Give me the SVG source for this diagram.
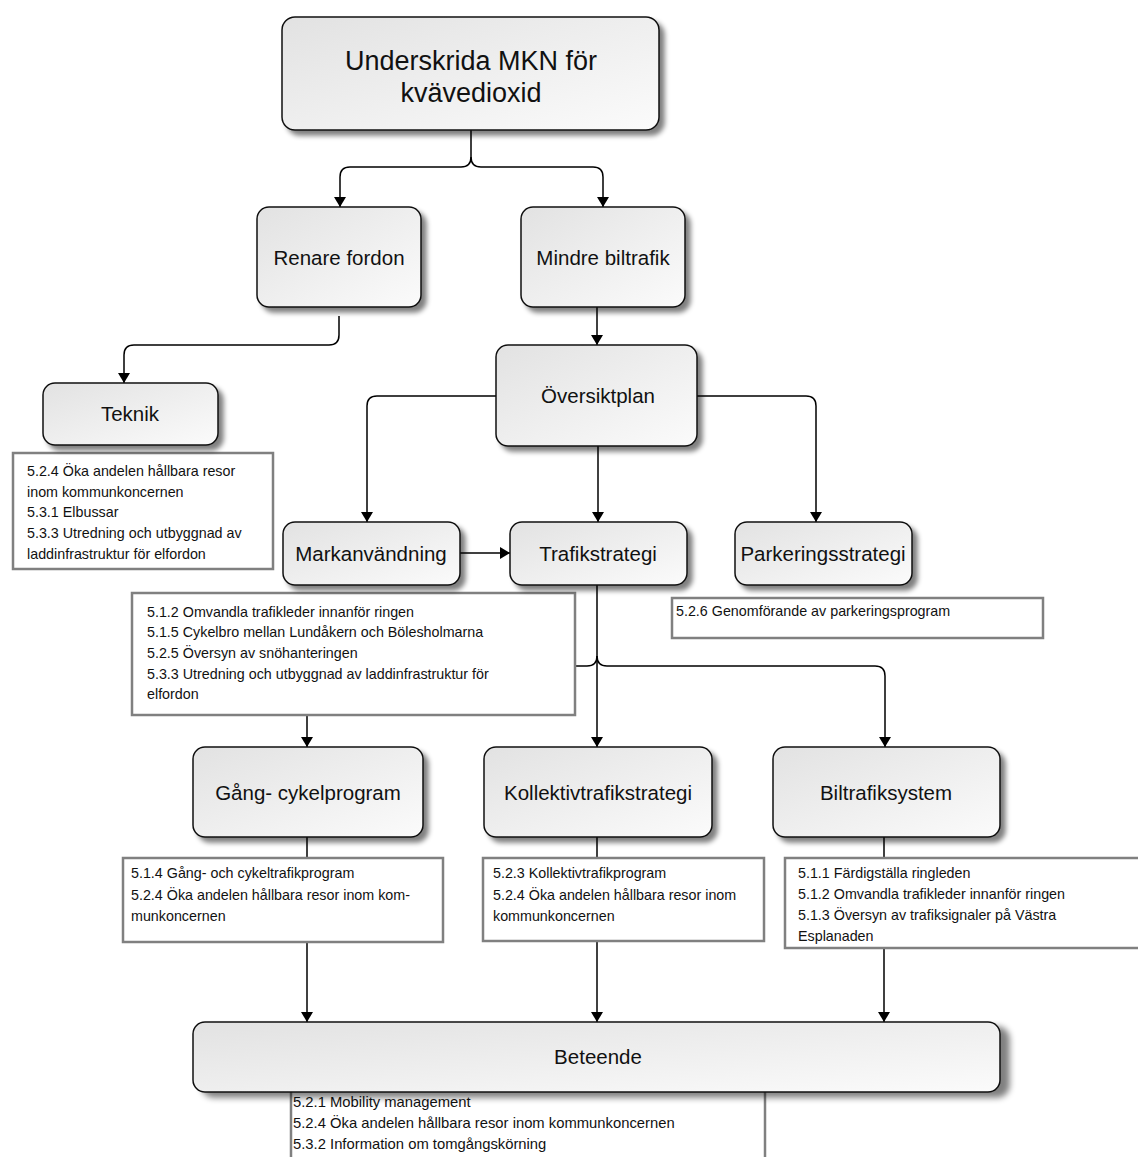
<svg xmlns="http://www.w3.org/2000/svg" width="1138" height="1157" viewBox="0 0 1138 1157">
<defs>
<linearGradient id="g" x1="0" y1="0" x2="1" y2="1">
<stop offset="0" stop-color="#e2e2e2"/>
<stop offset="1" stop-color="#fbfbfb"/>
</linearGradient>
<filter id="sh" x="-10%" y="-10%" width="130%" height="140%">
<feGaussianBlur in="SourceAlpha" stdDeviation="2.5"/>
<feOffset dx="5" dy="5" result="o"/>
<feComponentTransfer><feFuncA type="linear" slope="0.5"/></feComponentTransfer>
<feMerge><feMergeNode/><feMergeNode in="SourceGraphic"/></feMerge>
</filter>
<filter id="shw" x="-5%" y="-10%" width="115%" height="140%">
<feGaussianBlur in="SourceAlpha" stdDeviation="3"/>
<feOffset dx="9" dy="5" result="o"/>
<feComponentTransfer><feFuncA type="linear" slope="0.5"/></feComponentTransfer>
<feMerge><feMergeNode/><feMergeNode in="SourceGraphic"/></feMerge>
</filter>
<marker id="ah" viewBox="0 0 10 12" markerWidth="10" markerHeight="12" refX="10" refY="6" orient="auto" markerUnits="userSpaceOnUse">
<path d="M0,0 L10,6 L0,12 z" fill="#000"/>
</marker>
<style>
.n rect{fill:url(#g);stroke:#111;stroke-width:1.5;filter:url(#sh)}
.n text{font-family:"Liberation Sans",Arial,sans-serif;font-size:20.5px;fill:#111;text-anchor:middle}
.b rect{fill:#fff;stroke:#808080;stroke-width:2.5}
.b text{font-family:"Liberation Sans",Arial,sans-serif;font-size:14.3px;fill:#111}
.c path{fill:none;stroke:#000;stroke-width:1.5}
.c .a{marker-end:url(#ah)}
</style>
</defs>
<rect width="1138" height="1157" fill="#fff"/>

<g id="connectors" class="c">
<path class="a" d="M471,130 V157 Q471,167 461,167 H350 Q340,167 340,177 V207"/>
<path class="a" d="M471,157 Q471,167 481,167 H593 Q603,167 603,177 V207"/>
<path class="a" d="M339,316 V335 Q339,345 329,345 H134 Q124,345 124,355 V383"/>
<path class="a" d="M597,307 V345"/>
<path class="a" d="M496,396 H377 Q367,396 367,406 V522"/>
<path class="a" d="M598,446 V522"/>
<path class="a" d="M697,396 H806 Q816,396 816,406 V522"/>
<path class="a" d="M460,553 H510"/>
<path class="a" d="M597,585 V747"/>
<path class="a" d="M597,656 Q597,666 587,666 H317 Q307,666 307,676 V747"/>
<path class="a" d="M597,656 Q597,666 607,666 H875 Q885,666 885,676 V747"/>
<path class="a" d="M307,837 V1022"/>
<path class="a" d="M597,837 V1022"/>
<path class="a" d="M884,837 V1022"/>
</g>

<g id="box-teknik" class="b">
<rect x="13" y="453" width="260" height="116"/>
<text x="27" y="476">5.2.4 Öka andelen hållbara resor</text>
<text x="27" y="497">inom kommunkoncernen</text>
<text x="27" y="517">5.3.1 Elbussar</text>
<text x="27" y="538">5.3.3 Utredning och utbyggnad av</text>
<text x="27" y="559">laddinfrastruktur för elfordon</text>
</g>
<g id="box-trafik" class="b">
<rect x="132" y="593" width="443" height="122"/>
<text x="147" y="617">5.1.2 Omvandla trafikleder innanför ringen</text>
<text x="147" y="637">5.1.5 Cykelbro mellan Lundåkern och Bölesholmarna</text>
<text x="147" y="658">5.2.5 Översyn av snöhanteringen</text>
<text x="147" y="679">5.3.3 Utredning och utbyggnad av laddinfrastruktur för</text>
<text x="147" y="699">elfordon</text>
</g>
<g id="box-parkering" class="b">
<rect x="672" y="598" width="371" height="40"/>
<text x="676" y="616">5.2.6 Genomförande av parkeringsprogram</text>
</g>
<g id="box-gang" class="b">
<rect x="123" y="858" width="320" height="84"/>
<text x="131" y="878">5.1.4 Gång- och cykeltrafikprogram</text>
<text x="131" y="900">5.2.4 Öka andelen hållbara resor inom kom-</text>
<text x="131" y="921">munkoncernen</text>
</g>
<g id="box-kollektiv" class="b">
<rect x="483" y="858" width="281" height="83"/>
<text x="493" y="878">5.2.3 Kollektivtrafikprogram</text>
<text x="493" y="900">5.2.4 Öka andelen hållbara resor inom</text>
<text x="493" y="921">kommunkoncernen</text>
</g>
<g id="box-biltrafik" class="b">
<rect x="785" y="858" width="360" height="90"/>
<text x="798" y="878">5.1.1 Färdigställa ringleden</text>
<text x="798" y="899">5.1.2 Omvandla trafikleder innanför ringen</text>
<text x="798" y="920">5.1.3 Översyn av trafiksignaler på Västra</text>
<text x="798" y="941">Esplanaden</text>
</g>
<g id="box-beteende" class="b">
<rect x="291" y="1080" width="474" height="100"/>
<text x="293" y="1107" style="font-size:14.8px">5.2.1 Mobility management</text>
<text x="293" y="1128" style="font-size:14.8px">5.2.4 Öka andelen hållbara resor inom kommunkoncernen</text>
<text x="293" y="1149" style="font-size:14.8px">5.3.2 Information om tomgångskörning</text>
</g>

<g id="node-top" class="n">
<rect x="282" y="17" width="377" height="113" rx="13"/>
<text x="471" y="70" style="font-size:27px">Underskrida MKN för</text>
<text x="471" y="102" style="font-size:27px">kvävedioxid</text>
</g>
<g id="node-renare" class="n">
<rect x="257" y="207" width="164" height="100" rx="12"/>
<text x="339" y="265">Renare fordon</text>
</g>
<g id="node-mindre" class="n">
<rect x="521" y="207" width="164" height="100" rx="12"/>
<text x="603" y="265">Mindre biltrafik</text>
</g>
<g id="node-teknik" class="n">
<rect x="43" y="383" width="175" height="62" rx="12"/>
<text x="130" y="421">Teknik</text>
</g>
<g id="node-oversikt" class="n">
<rect x="496" y="345" width="201" height="101" rx="12"/>
<text x="598" y="403">Översiktplan</text>
</g>
<g id="node-mark" class="n">
<rect x="283" y="522" width="177" height="63" rx="12"/>
<text x="371" y="561">Markanvändning</text>
</g>
<g id="node-trafik" class="n">
<rect x="510" y="522" width="177" height="63" rx="12"/>
<text x="598" y="561">Trafikstrategi</text>
</g>
<g id="node-parkering" class="n">
<rect x="735" y="522" width="177" height="63" rx="12"/>
<text x="823" y="561">Parkeringsstrategi</text>
</g>
<g id="node-gang" class="n">
<rect x="193" y="747" width="230" height="90" rx="12"/>
<text x="308" y="800">Gång- cykelprogram</text>
</g>
<g id="node-kollektiv" class="n">
<rect x="484" y="747" width="228" height="90" rx="12"/>
<text x="598" y="800">Kollektivtrafikstrategi</text>
</g>
<g id="node-biltrafik" class="n">
<rect x="773" y="747" width="227" height="90" rx="12"/>
<text x="886" y="800">Biltrafiksystem</text>
</g>
<g id="node-beteende" class="n">
<rect x="193" y="1022" width="807" height="70" rx="12" style="filter:url(#shw)"/>
<text x="598" y="1064">Beteende</text>
</g>
</svg>
